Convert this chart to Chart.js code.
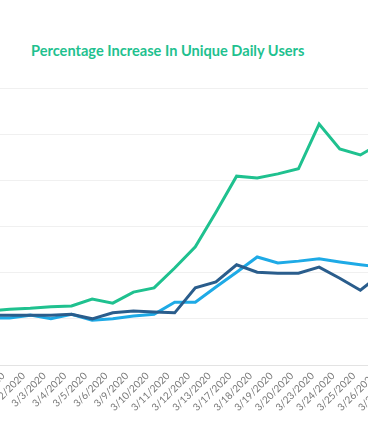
<!DOCTYPE html>
<html>
<head>
<meta charset="utf-8">
<script src="https://cdn.jsdelivr.net/npm/chart.js@4"></script>
<style>
  html, body { margin: 0; padding: 0; width: 368px; height: 445px; overflow: hidden; background: #fff; }
  #title { position: absolute; left: 31px; top: 42px; font-family: Lato, "Open Sans", sans-serif; font-weight: 700; font-size: 14.6px; color: #1fc18f; white-space: nowrap; }
  #wrap { position: absolute; left: -60px; top: 0; }
</style>
</head>
<body>
<div id="title">Percentage Increase In Unique Daily Users</div>
<div id="wrap"><canvas id="c" width="500" height="445"></canvas></div>
<script>
const dates = ["2/28/2020","3/2/2020","3/3/2020","3/4/2020","3/5/2020","3/6/2020","3/9/2020","3/10/2020","3/11/2020","3/12/2020","3/13/2020","3/17/2020","3/18/2020","3/19/2020","3/20/2020","3/23/2020","3/24/2020","3/25/2020","3/26/2020","3/27/2020"];
const greenSeries = [11.7,12.1,12.3,12.6,12.8,14.3,13.4,15.8,16.7,21.0,25.6,33.1,40.9,40.5,41.4,42.5,52.2,46.8,45.5,48.1];
const darkBlueSeries = [10.8,10.8,10.8,10.8,11.0,10.0,11.3,11.7,11.5,11.3,16.7,18.0,21.7,20.1,19.9,19.9,21.2,18.8,16.2,19.7];
const lightBlueSeries = [10.2,10.2,10.8,10.0,11.0,9.7,10.0,10.6,11.0,13.6,13.6,16.9,20.1,23.4,22.1,22.5,23.0,22.3,21.7,21.2];
const yTicks = [0,10,20,30,40,50,60];

new Chart(document.getElementById('c'), {
  type: 'line',
  data: {
    labels: dates,
    datasets: [
      { label: 'Green', data: greenSeries, borderColor: '#1fc18f', borderWidth: 3, pointRadius: 0, tension: 0, fill: false },
      { label: 'Dark blue', data: darkBlueSeries, borderColor: '#2a5d8c', borderWidth: 3, pointRadius: 0, tension: 0, fill: false },
      { label: 'Light blue', data: lightBlueSeries, borderColor: '#1eaae6', borderWidth: 3, pointRadius: 0, tension: 0, fill: false }
    ]
  },
  options: {
    responsive: false,
    animation: false,
    layout: { padding: { left: 49, right: 59, top: 88, bottom: 0 } },
    plugins: { legend: { display: false }, tooltip: { enabled: false }, title: { display: false } },
    scales: {
      x: {
        grid: { display: false, drawTicks: false },
        border: { display: true, color: '#e3e3e3', width: 1 },
        afterFit: (s) => { s.height = 80; },
        ticks: {
          autoSkip: false, minRotation: 45, maxRotation: 45, padding: 5, labelOffset: 14,
          color: '#777777', font: { family: 'Lato', size: 10 }
        }
      },
      y: {
        min: yTicks[0], max: yTicks[yTicks.length - 1],
        afterBuildTicks: (s) => { s.ticks = yTicks.map(v => ({ value: v })); },
        grid: { color: '#f0f0f0', drawTicks: false },
        border: { display: false },
        ticks: { display: false }
      }
    }
  }
});
</script>
</body>
</html>
